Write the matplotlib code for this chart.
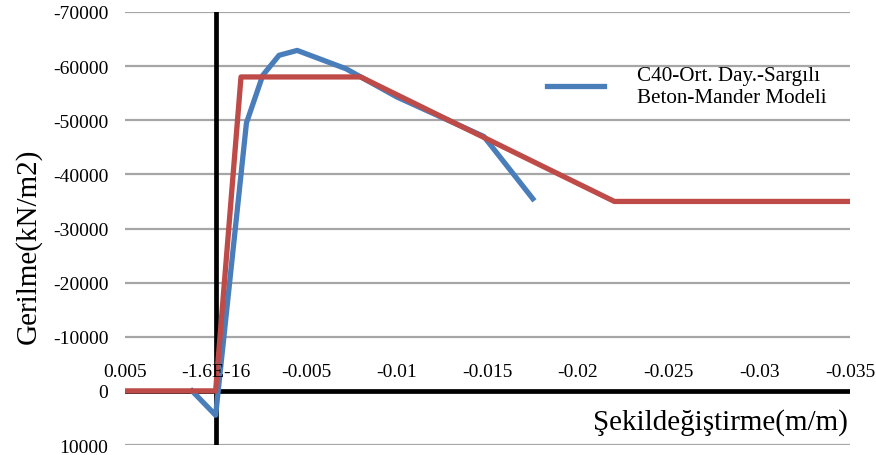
import numpy as np
import matplotlib
matplotlib.use("Agg")
import matplotlib.pyplot as plt

plt.rcParams['font.family'] = ['Liberation Serif', 'DejaVu Serif']

# Mander modeli (mavi)
mander_x = [0.0013, 0.0, -0.0017, -0.0026, -0.0035, -0.0045, -0.0072, -0.0100, -0.0148, -0.0175]
mander_y = [0, 4500, -49500, -58300, -62000, -62900, -59500, -54300, -47000, -35500]

# idealize model (kirmizi)
ideal_x = [0.005, 0.0, -0.0014, -0.008, -0.022, -0.035]
ideal_y = [0, 0, -58000, -58000, -35000, -35000]

xticks = [0.005, 0.0, -0.005, -0.01, -0.015, -0.02, -0.025, -0.03, -0.035]
xtick_labels = ["0.005", "-1.6E-16", "-0.005", "-0.01", "-0.015", "-0.02", "-0.025", "-0.03", "-0.035"]
yticks = [-70000, -60000, -50000, -40000, -30000, -20000, -10000, 0, 10000]

fig = plt.figure(figsize=(8.76, 4.56), dpi=100)
ax = fig.add_axes([0.1427, 0.0219, 0.8276, 0.9496])

ax.set_xlim(0.005, -0.035)
ax.set_ylim(10000, -70000)

ax.set_yticks(yticks)
ax.set_yticklabels([str(v) for v in yticks], fontsize=14)
ax.tick_params(axis='y', length=0, pad=12)
ax.yaxis.grid(True, color='#a6a6a6', lw=1.6)
ax.set_axisbelow(True)

for s in ['left', 'right', 'bottom', 'top']:
    ax.spines[s].set_visible(False)
ax.set_xticks([])

ax.axhline(0, color='black', lw=3.4, zorder=1)
ax.axvline(0, color='black', lw=3.4, zorder=1)

# x etiketleri eksenin ustunde, cizgilerin onunde
for xv, lab in zip(xticks, xtick_labels):
    ax.annotate(lab, xy=(xv, 0), xytext=(0, 8), textcoords='offset points',
                ha='center', va='bottom', fontsize=14, zorder=6,
                annotation_clip=False)

ln_m, = ax.plot(mander_x, mander_y, color='#4a7ebb', lw=3.8, zorder=3,
                label="C40-Ort. Day.-Sargılı\nBeton-Mander Modeli")
ax.plot(ideal_x, ideal_y, color='#be4b48', lw=3.8, zorder=4)

ax.legend(handles=[ln_m], loc='upper left', bbox_to_anchor=(0.582, 0.875),
          frameon=False, fontsize=15.2, handlelength=2.7, handletextpad=1.55,
          borderpad=0, borderaxespad=0, labelspacing=0.2)

fig.text(0.032, 0.46, "Gerilme(kN/m2)", rotation=90, fontsize=21,
         ha='center', va='center')
ax.text(0.997, 0.054, "Şekildeğiştirme(m/m)", transform=ax.transAxes,
        fontsize=21, ha='right', va='center')

fig.savefig("out.png", dpi=100)
